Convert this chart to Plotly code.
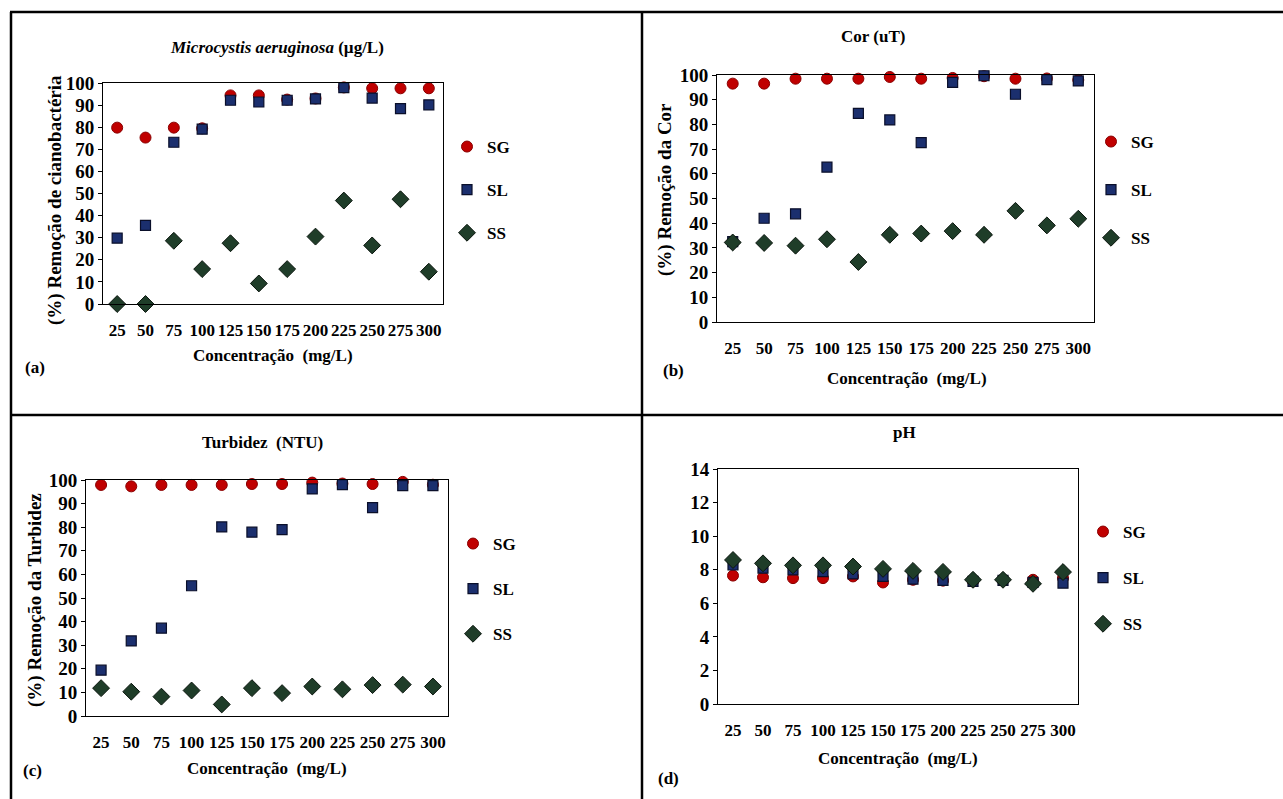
import plotly.graph_objects as go

W, H = 1283, 799
concentracao = ["25", "50", "75", "100", "125", "150", "175", "200", "225", "250", "275", "300"]
series_names = ["SG", "SL", "SS"]

# (a) Microcystis aeruginosa removal (%)
a_SG = [79.8, 75.3, 79.8, 79.5, 94.4, 94.4, 92.5, 93.0, 98.0, 97.6, 97.6, 97.6]
a_SL = [29.8, 35.6, 73.2, 79.1, 92.2, 91.4, 92.2, 92.8, 97.9, 93.2, 88.4, 90.1]
a_SS = [0.0, 0.0, 28.6, 15.8, 27.5, 9.3, 15.8, 30.5, 46.8, 26.5, 47.4, 14.6]

# (b) Colour removal (%)
b_SG = [96.5, 96.5, 98.5, 98.5, 98.5, 99.2, 98.5, 98.8, 99.5, 98.5, 98.6, 98.0]
b_SL = [32.5, 42.0, 43.8, 62.7, 84.5, 81.8, 72.6, 97.0, 99.7, 92.2, 98.1, 97.6]
b_SS = [32.2, 32.0, 30.9, 33.5, 24.3, 35.3, 35.8, 36.8, 35.3, 45.0, 39.1, 41.8]

# (c) Turbidity removal (%)
c_SG = [97.9, 97.3, 97.9, 97.9, 97.9, 98.3, 98.3, 98.9, 98.5, 98.3, 99.2, 98.0]
c_SL = [19.4, 31.8, 37.2, 55.2, 80.1, 77.9, 79.0, 96.2, 98.0, 88.3, 97.6, 97.6]
c_SS = [11.8, 10.3, 8.2, 10.8, 4.9, 11.8, 9.7, 12.5, 11.3, 13.1, 13.3, 12.5]

# (d) pH
d_SG = [7.65, 7.55, 7.50, 7.50, 7.60, 7.24, 7.40, 7.35, 7.30, 7.35, 7.40, 7.50]
d_SL = [8.28, 8.09, 7.99, 7.89, 7.75, 7.60, 7.44, 7.36, 7.30, 7.36, 7.24, 7.20]
d_SS = [8.58, 8.38, 8.26, 8.26, 8.19, 8.05, 7.93, 7.87, 7.40, 7.40, 7.16, 7.86]

panel_titles = ["<i>Microcystis aeruginosa</i> (µg/L)", "Cor (uT)", "Turbidez  (NTU)", "pH"]
y_titles = ["(%) Remoção de cianobactéria", "(%) Remoção da Cor", "(%) Remoção da Turbidez", ""]
x_title = "Concentração  (mg/L)"
panel_letters = ["(a)", "(b)", "(c)", "(d)"]

FONT = "Liberation Serif"

def px_x(v):
    return v / W

def px_y(v):
    return 1 - v / H

# plot areas in pixels: (left, right, top, bottom)
areas = [(103, 443, 83, 304), (717, 1094, 75, 322), (86, 448, 480, 716), (718, 1078, 469, 704)]
yranges = [[0, 100], [0, 100], [0, 100], [0, 14]]
ydticks = [10, 10, 10, 2]
data = [(a_SG, a_SL, a_SS), (b_SG, b_SL, b_SS), (c_SG, c_SL, c_SS), (d_SG, d_SL, d_SS)]

styles = {
    "SG": dict(symbol="circle", size=11, color="#c00000", line=dict(color="#8a0000", width=1)),
    "SL": dict(symbol="square", size=10, color="#1b2f6e", line=dict(color="#0a0f2a", width=1.2)),
    "SS": dict(symbol="diamond", size=13, color="#1f3d29", line=dict(color="#0a150d", width=1)),
}

fig = go.Figure()
legend_ids = ["legend", "legend2", "legend3", "legend4"]

for i in range(4):
    xa = "x" if i == 0 else f"x{i+1}"
    ya = "y" if i == 0 else f"y{i+1}"
    for name, vals in zip(series_names, data[i]):
        st = styles[name]
        fig.add_trace(go.Scatter(
            x=concentracao, y=vals, mode="markers", name=name,
            xaxis=xa, yaxis=ya, legend=legend_ids[i], legendgroup=f"{name}{i}",
            marker=dict(symbol=st["symbol"], size=st["size"], color=st["color"], line=st["line"]),
            cliponaxis=False, hoverinfo="x+y+name",
        ))

layout = dict(
    width=W, height=H, margin=dict(l=0, r=0, t=0, b=0, pad=0, autoexpand=False),
    paper_bgcolor="white", plot_bgcolor="white",
    font=dict(family=FONT, size=16, color="black"),
)

for i, (l, r, t, b) in enumerate(areas):
    kx = "xaxis" if i == 0 else f"xaxis{i+1}"
    ky = "yaxis" if i == 0 else f"yaxis{i+1}"
    ya = "y" if i == 0 else f"y{i+1}"
    xa = "x" if i == 0 else f"x{i+1}"
    layout[kx] = dict(
        domain=[px_x(l), px_x(r)], anchor=ya, type="category",
        categoryorder="array", categoryarray=concentracao, range=[-0.5, 11.5],
        showline=True, linecolor="black", linewidth=1, mirror=True,
        showgrid=False, zeroline=False, ticks="", automargin=False,
        tickfont=dict(family=FONT, size=17, color="black", weight="bold"),
        ticklabelstandoff=11, fixedrange=True,
    )
    layout[ky] = dict(
        domain=[px_y(b), px_y(t)], anchor=xa, range=yranges[i], dtick=ydticks[i],
        showline=True, linecolor="black", linewidth=1, mirror=True,
        showgrid=False, zeroline=False, ticks="outside", ticklen=4, tickcolor="black",
        automargin=False,
        tickfont=dict(family=FONT, size=19, color="black", weight="bold"),
        fixedrange=True,
    )

# legends: (left px, top px, gap between items)
leg_pos = [(447, 129, 18), (1091, 124, 23), (453, 526, 20), (1083, 514, 21)]
for i, (lx, ly, gap) in enumerate(leg_pos):
    layout[legend_ids[i]] = dict(
        x=px_x(lx), y=px_y(ly), xanchor="left", yanchor="top",
        xref="paper", yref="paper",
        font=dict(family=FONT, size=17, color="black", weight="bold"),
        bgcolor="rgba(0,0,0,0)", borderwidth=0,
        tracegroupgap=gap, itemwidth=30, traceorder="grouped",
    )

annotations = []
title_pos = [(277, 47), (873, 36), (262, 442), (905, 432)]
ylab_pos = [(55, 200), (665, 190), (35, 600), None]
xlab_pos = [(273, 355), (907, 378), (267, 768), (898, 758)]
letter_pos = [(35, 368), (673, 370), (32, 770), (668, 778)]
for i in range(4):
    tx, ty = title_pos[i]
    annotations.append(dict(text=f"<b>{panel_titles[i]}</b>", x=px_x(tx), y=px_y(ty), xref="paper", yref="paper",
                            showarrow=False, xanchor="center", yanchor="middle",
                            font=dict(family=FONT, size=17, color="black")))
    if ylab_pos[i]:
        lx, ly = ylab_pos[i]
        annotations.append(dict(text=f"<b>{y_titles[i]}</b>", x=px_x(lx), y=px_y(ly), xref="paper", yref="paper",
                                showarrow=False, textangle=-90, xanchor="center", yanchor="middle",
                                font=dict(family=FONT, size=19, color="black")))
    xx, xy = xlab_pos[i]
    annotations.append(dict(text=f"<b>{x_title}</b>", x=px_x(xx), y=px_y(xy), xref="paper", yref="paper",
                            showarrow=False, xanchor="center", yanchor="middle",
                            font=dict(family=FONT, size=17, color="black")))
    px_, py_ = letter_pos[i]
    annotations.append(dict(text=f"<b>{panel_letters[i]}</b>", x=px_x(px_), y=px_y(py_), xref="paper", yref="paper",
                            showarrow=False, xanchor="center", yanchor="middle",
                            font=dict(family=FONT, size=17, color="black")))
layout["annotations"] = annotations

line_style = dict(color="black", width=2.5)
layout["shapes"] = [
    dict(type="line", xref="paper", yref="paper", x0=px_x(10), x1=1, y0=px_y(12), y1=px_y(12), line=line_style),
    dict(type="line", xref="paper", yref="paper", x0=px_x(11), x1=px_x(11), y0=px_y(12), y1=0, line=line_style),
    dict(type="line", xref="paper", yref="paper", x0=px_x(642), x1=px_x(642), y0=px_y(12), y1=0, line=line_style),
    dict(type="line", xref="paper", yref="paper", x0=px_x(10), x1=1, y0=px_y(415), y1=px_y(415), line=line_style),
]

fig.update_layout(**layout)
fig.write_html(
    "out.html",
    config={"displayModeBar": False},
    post_script=(
        "document.documentElement.style.margin='0';"
        "document.body.style.margin='0';document.body.style.overflow='hidden';"
        "var d=document.getElementById('{plot_id}');"
        "d.style.position='fixed';d.style.top='0px';d.style.left='0px';"
    ),
)
